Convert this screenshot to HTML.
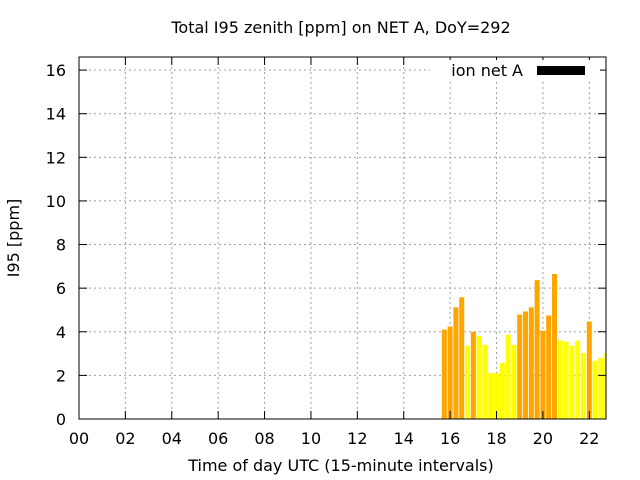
<!DOCTYPE html>
<html><head><meta charset="utf-8"><style>
body{margin:0;background:#fff;}
svg{display:block;font-family:"DejaVu Sans","Liberation Sans",sans-serif;}
</style></head><body>
<svg id="chart" width="640" height="480">
<text x="341" y="33" text-anchor="middle" font-size="16">Total I95 zenith [ppm] on NET A, DoY=292</text>
<text x="341" y="471" text-anchor="middle" font-size="16">Time of day UTC (15-minute intervals)</text>
<text transform="translate(19,238) rotate(-90)" text-anchor="middle" font-size="16">I95 [ppm]</text>
<g id="grid"></g><g id="bars"></g><g id="axes"></g>
<rect x="430" y="60" width="170" height="20" fill="#fff"/>
<text x="523" y="76" text-anchor="end" font-size="16">ion net A</text>
<rect x="537" y="66" width="48" height="9" fill="#000"/>
</svg>
<script>
const hours=[15.75,16,16.25,16.5,16.75,17,17.25,17.5,17.75,18,18.25,18.5,18.75,19,19.25,19.5,19.75,20,20.25,20.5,20.75,21,21.25,21.5,21.75,22,22.25,22.5,22.75];
const values=[4.10,4.24,5.12,5.58,3.36,4.0,3.82,3.40,2.1,2.1,2.57,3.87,3.40,4.79,4.93,5.12,6.37,4.05,4.75,6.65,3.6,3.55,3.36,3.6,3.03,4.47,2.67,2.8,3.03];
const yTicks=[0,2,4,6,8,10,12,14,16];
const xTicks=[0,2,4,6,8,10,12,14,16,18,20,22];
const xTickLabels=["00","02","04","06","08","10","12","14","16","18","20","22"];
const L=79,R=606,T=57,B=419,xMax=22.72,yMax=16.6;
const xs=h=>L+h/xMax*(R-L);
const ys=v=>B-v/yMax*(B-T);
const NS="http://www.w3.org/2000/svg";
function mk(t,a,p){const e=document.createElementNS(NS,t);for(const k in a)e.setAttribute(k,a[k]);p.appendChild(e);return e;}
const grid=document.getElementById('grid'),bars=document.getElementById('bars'),axes=document.getElementById('axes');
yTicks.forEach(v=>{const y=ys(v);
 if(v>0){const g=mk('line',{x1:L,x2:R,y1:y,y2:y,stroke:'#a0a0a0','stroke-dasharray':'2,3'},grid);
 
 }
 mk('line',{x1:L,x2:L+8,y1:y,y2:y,stroke:'#000'},axes);
 mk('line',{x1:R-8,x2:R,y1:y,y2:y,stroke:'#000'},axes);
 const t=mk('text',{x:L-13,y:y+6,'text-anchor':'end','font-size':16},axes);t.textContent=v;
 
 
});
xTicks.forEach((h,i)=>{const x=xs(h);
 if(h>0){const g=mk('line',{x1:x,x2:x,y1:T,y2:B,stroke:'#a0a0a0','stroke-dasharray':'2,3'},grid);
 
 }
 mk('line',{x1:x,x2:x,y1:B,y2:B-8,stroke:'#000'},axes);
 mk('line',{x1:x,x2:x,y1:T,y2:T+8,stroke:'#000'},axes);
 const t=mk('text',{x:x,y:B+25,'text-anchor':'middle','font-size':16},axes);t.textContent=xTickLabels[i];
 
 
});
hours.forEach((h,i)=>{const v=values[i];const x=xs(h);const w=5;
 const x0=x-w/2,x1=Math.min(x+w/2,R);
 const r=mk('rect',{x:x0,y:ys(v),width:Math.max(0,x1-x0),height:B-ys(v),fill:v>=3.95?'#ffa500':'#ffff00'},bars);
 
 
});
const f=mk('rect',{x:L,y:T,width:R-L,height:B-T,fill:'none',stroke:'#000'},axes);


</script>
</body></html>
